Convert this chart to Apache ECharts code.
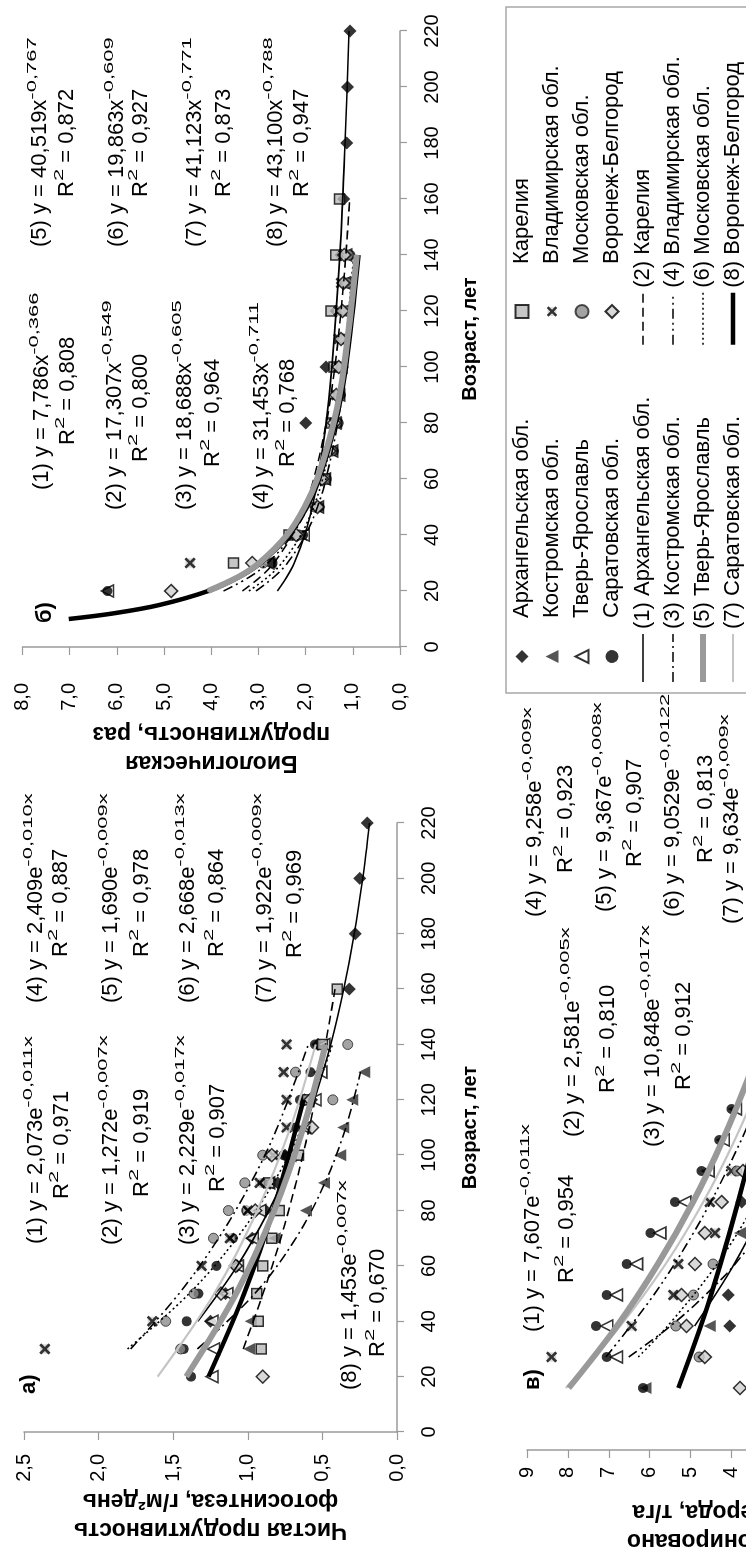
<!DOCTYPE html>
<html><head><meta charset="utf-8">
<script src="https://cdn.jsdelivr.net/npm/echarts/dist/echarts.min.js"></script>
<style>
html,body{margin:0;padding:0;width:746px;height:1557px;overflow:hidden;background:#fff;}
#wrap{position:absolute;left:0;top:0;width:1557px;height:746px;transform-origin:0 0;transform:translate(0px,1557px) rotate(-90deg);}
#chart{width:1557px;height:746px;}
</style></head><body><div id="wrap"><div id="chart"></div></div>
<script>
// ---------- names ----------
const pointNames = ['Архангельская обл.','Костромская обл.','Тверь-Ярославль','Саратовская обл.','Карелия','Владимирская обл.','Московская обл.','Воронеж-Белгород'];
const trendNames = ['(1) Архангельская обл.','(2) Карелия','(3) Костромская обл.','(4) Владимирская обл.','(5) Тверь-Ярославль','(6) Московская обл.','(7) Саратовская обл.','(8) Воронеж-Белгород'];

// ---------- panel а) : net photosynthesis productivity ----------
const a_arkh = [[40,1.25],[50,1.15],[60,1.07],[70,0.97],[80,0.88],[90,0.8],[100,0.75],[120,0.62],[140,0.53],[160,0.32],[180,0.28],[200,0.25],[220,0.2]];
const a_kost = [[30,0.99],[40,0.98],[70,0.82],[80,0.61],[90,0.49],[100,0.38],[110,0.36],[120,0.30],[130,0.22]];
const a_tver = [[20,1.24],[30,1.23],[40,1.24],[50,1.14],[60,1.07],[70,0.97],[80,0.92],[90,0.86],[100,0.72],[110,0.62],[120,0.55],[130,0.51],[140,0.49]];
const a_sar  = [[20,1.38],[30,1.43],[40,1.41],[50,1.33],[60,1.21],[70,1.1],[80,1.01],[90,0.9],[100,0.76],[110,0.68],[120,0.65],[130,0.58],[140,0.55]];
const a_kar  = [[30,0.91],[40,0.93],[50,0.94],[60,0.9],[70,0.84],[80,0.79],[90,0.86],[100,0.66],[120,0.6],[140,0.5],[160,0.4]];
const a_vlad = [[30,2.36],[40,1.64],[60,1.31],[70,1.12],[80,1.0],[90,0.92],[100,0.83],[110,0.74],[120,0.74],[130,0.76],[140,0.74]];
const a_mosk = [[30,1.45],[40,1.55],[50,1.36],[70,1.23],[80,1.13],[90,1.02],[100,0.9],[120,0.43],[130,0.68],[140,0.33]];
const a_vor  = [[20,0.9],[50,1.18],[60,1.08],[80,0.95],[100,0.84],[110,0.57],[120,0.58]];
const a_t1 = [[40,1.335],[60,1.071],[80,0.860],[100,0.690],[120,0.554],[140,0.444],[160,0.357],[180,0.286],[200,0.230],[220,0.184]];
const a_t2 = [[30,1.031],[60,0.836],[90,0.677],[120,0.549],[160,0.415]];
const a_t3 = [[30,1.338],[50,0.953],[70,0.678],[90,0.483],[110,0.343],[130,0.245]];
const a_t4 = [[30,1.785],[50,1.461],[70,1.196],[90,0.979],[110,0.802],[140,0.594]];
const a_t5 = [[20,1.412],[50,1.078],[80,0.823],[110,0.628],[140,0.479]];
const a_t6 = [[30,1.806],[50,1.393],[70,1.074],[90,0.828],[110,0.638],[140,0.432]];
const a_t7 = [[20,1.605],[50,1.225],[80,0.936],[110,0.714],[140,0.545]];
const a_t8 = [[20,1.263],[50,1.024],[80,0.830],[120,0.627]];
const a_eq = [['(1) y = 2,073e','-0,011x','0,971'],['(2) y = 1,272e','-0,007x','0,919'],['(3) y = 2,229e','-0,017x','0,907'],['(4) y = 2,409e','-0,010x','0,887'],['(5) y = 1,690e','-0,009x','0,978'],['(6) y = 2,668e','-0,013x','0,864'],['(7) y = 1,922e','-0,009x','0,969'],['(8) y = 1,453e','-0,007x','0,670']];

// ---------- panel б) : biological productivity ----------
const b_arkh = [[80,2.0],[100,1.57],[120,1.35],[140,1.25],[160,1.19],[180,1.13],[200,1.11],[220,1.06]];
const b_kost = [[30,2.75],[40,2.1],[50,1.75],[60,1.6],[70,1.45],[80,1.35],[90,1.3],[100,1.25],[110,1.2],[120,1.2],[130,1.2]];
const b_tver = [[20,6.2],[30,2.8],[40,2.05],[50,1.75],[60,1.6],[70,1.45],[80,1.38],[90,1.3],[100,1.25],[110,1.22],[120,1.2],[130,1.18],[140,1.15]];
const b_sar  = [[20,6.2],[30,2.7],[40,2.05],[50,1.7],[60,1.55],[70,1.4],[80,1.3],[90,1.25],[100,1.2],[110,1.15],[120,1.1],[130,1.1],[140,1.05]];
const b_kar  = [[30,3.53],[40,2.35],[60,1.6],[80,1.45],[100,1.4],[120,1.46],[140,1.36],[160,1.28]];
const b_vlad = [[30,4.45],[40,2.2],[50,1.8],[60,1.65],[70,1.5],[80,1.4],[90,1.35],[100,1.3],[110,1.3],[120,1.3],[130,1.25],[140,1.2]];
const b_mosk = [[30,2.9],[40,2.15],[50,1.8],[60,1.6],[70,1.45],[80,1.35],[90,1.3],[100,1.25],[110,1.2],[120,1.15],[130,1.12],[140,1.1]];
const b_vor  = [[20,4.85],[30,3.13],[40,2.2],[50,1.75],[60,1.65],[70,1.5],[80,1.4],[90,1.35],[100,1.3],[110,1.25],[120,1.22],[130,1.2],[140,1.18]];
const b_t1 = [[20,2.60],[25,2.40],[30,2.24],[40,2.018],[50,1.86],[60,1.741],[80,1.566],[100,1.443],[140,1.275],[180,1.164],[220,1.081]];
const b_t2 = [[20,3.34],[25,2.96],[30,2.675],[40,2.285],[50,2.02],[60,1.828],[80,1.561],[100,1.381],[120,1.250],[140,1.148],[160,1.067]];
const b_t3 = [[20,3.05],[25,2.67],[30,2.387],[40,2.005],[50,1.75],[60,1.570],[80,1.319],[100,1.153],[130,0.983]];
const b_t4 = [[20,3.74],[25,3.19],[30,2.803],[40,2.283],[50,1.95],[60,1.712],[80,1.394],[100,1.193],[140,0.938]];
const b_t5 = [[20,4.068],[25,3.43],[30,2.983],[40,2.394],[50,2.02],[60,1.756],[80,1.406],[100,1.185],[140,0.915]];
const b_t6 = [[20,3.20],[25,2.80],[30,2.504],[40,2.100],[50,1.83],[60,1.642],[80,1.377],[100,1.204],[140,0.979]];
const b_t7 = [[20,4.082],[25,3.44],[30,2.990],[40,2.394],[50,2.02],[60,1.752],[80,1.402],[100,1.181],[140,0.910]];
const b_t8 = [[10,7.02],[12,6.08],[15,5.10],[20,4.065],[25,3.41],[30,2.957],[40,2.355],[50,1.97],[60,1.712],[80,1.365],[100,1.143],[140,0.878]];
const b_eq = [['(1) y = 7,786x','-0,366','0,808'],['(2) y = 17,307x','-0,549','0,800'],['(3) y = 18,688x','-0,605','0,964'],['(4) y = 31,453x','-0,711','0,768'],['(5) y = 40,519x','-0,767','0,872'],['(6) y = 19,863x','-0,609','0,927'],['(7) y = 41,123x','-0,771','0,873'],['(8) y = 43,100x','-0,788','0,947']];

// ---------- panel в) : deposited carbon ----------
const c_arkh = [[40,4.04],[50,4.08],[80,3.75],[100,3.4],[120,3.0],[140,2.5]];
const c_kost = [[20,6.1],[40,4.53],[70,3.79],[90,3.5],[110,3.1]];
const c_tver = [[30,6.81],[40,7.05],[50,6.81],[60,6.32],[70,5.75],[80,5.14],[90,4.57],[100,4.2],[110,3.9]];
const c_sar  = [[20,6.16],[30,7.05],[40,7.31],[50,7.05],[60,6.56],[70,5.98],[80,5.38],[90,4.73],[100,4.3],[110,4.0]];
const c_kar  = [[30,2.5],[60,2.1],[90,1.7]];
const c_vlad = [[30,8.40],[40,6.44],[50,5.42],[60,5.30],[70,4.40],[80,4.53],[90,4.0]];
const c_mosk = [[30,4.79],[40,5.36],[50,4.93],[60,4.45],[90,3.87]];
const c_vor  = [[20,3.79],[30,4.65],[40,5.10],[50,5.22],[60,4.89],[70,4.65],[80,4.24],[90,3.72]];
const c_t1 = [[40,4.90],[60,3.93],[80,3.16],[100,2.53],[140,1.63],[180,1.05]];
const c_t2 = [[30,2.22],[90,1.65],[160,1.16]];
const c_t3 = [[30,6.51],[40,5.49],[50,4.64],[60,3.91],[80,2.78],[100,1.98],[130,1.19]];
const c_t4 = [[30,7.07],[50,5.90],[70,4.93],[90,4.12],[110,3.44],[140,2.63]];
const c_t5 = [[20,7.98],[40,6.80],[60,5.80],[80,4.94],[100,4.21],[120,3.59],[140,3.06]];
const c_t6 = [[30,6.28],[40,5.56],[60,4.35],[80,3.41],[100,2.67],[140,1.64]];
const c_t7 = [[20,8.05],[40,6.72],[60,5.61],[80,4.69],[100,3.92],[120,3.27],[140,2.73]];
const c_t8 = [[20,5.30],[50,4.50],[90,3.64],[140,2.77]];
const c_eq = [['(1) y = 7,607e','-0,011x','0,954'],['(2) y = 2,581e','-0,005x','0,810'],['(3) y = 10,848e','-0,017x','0,912'],['(4) y = 9,258e','-0,009x','0,923'],['(5) y = 9,367e','-0,008x','0,907'],['(6) y = 9,0529e','-0,0122x','0,813'],['(7) y = 9,634e','-0,009x','']];

// ---------- axis ticks / titles ----------
const ageTicks = {min:0, max:220, step:20};
const ageTicksC = {min:0, max:200, step:20};
const yA = {min:0, max:2.5, step:0.5};
const yB = {min:0, max:8, step:1};
const yC = {min:0, max:9, step:1};
const xTitle = 'Возраст, лет';
const yTitles = ['Чистая продуктивность\nфотосинтеза, г/м²день','Биологическая\nпродуктивность, раз','Депонировано\nуглерода, т/га'];
const panelLabels = ['а)','б)','в)'];

// ================= styling / layout =================
const FONT = '"Liberation Sans", Arial, sans-serif';
const AX = '#9a9a9a';
const xsvg = "<svg xmlns='http://www.w3.org/2000/svg' width='24' height='24'><rect x='4' y='4' width='16' height='16' fill='#d2d2d2'/><path d='M4,4 L20,20 M20,4 L4,20' stroke='#000' stroke-width='4.6'/></svg>";
const XSYM = 'image://data:image/svg+xml;charset=utf-8,' + encodeURIComponent(xsvg);

const markerStyles = {
  'Архангельская обл.': {symbol:'diamond', size:13, item:{color:'#000'}},
  'Костромская обл.': {symbol:'triangle', size:12, item:{color:'#2a2a2a'}},
  'Тверь-Ярославль': {symbol:'triangle', size:12, item:{color:'#fff', borderColor:'#000', borderWidth:1.6}},
  'Саратовская обл.': {symbol:'circle', size:10, item:{color:'#000'}},
  'Карелия': {symbol:'rect', size:10, item:{color:'#b8b8b8', borderColor:'#000', borderWidth:1.5}},
  'Владимирская обл.': {symbol:XSYM, size:14, item:{}},
  'Московская обл.': {symbol:'circle', size:10, item:{color:'#8c8c8c', borderColor:'#222', borderWidth:1}},
  'Воронеж-Белгород': {symbol:'diamond', size:13, item:{color:'#cfcfcf', borderColor:'#000', borderWidth:1.5}}
};
const lineStyles = [
  {color:'#000', width:1.6, type:'solid'},
  {color:'#000', width:1.6, type:[9,5]},
  {color:'#000', width:1.6, type:[10,4,2,4]},
  {color:'#000', width:1.6, type:[10,4,2,4,2,4]},
  {color:'#999', width:6, type:'solid'},
  {color:'#000', width:1.6, type:[2,3]},
  {color:'#c4c4c4', width:2.2, type:'solid'},
  {color:'#000', width:4.5, type:'solid'}
];
const drawOrder = [7,1,2,3,5,0,6,4];

const panelPoints = [
  [a_arkh,a_kost,a_tver,a_sar,a_kar,a_vlad,a_mosk,a_vor],
  [b_arkh,b_kost,b_tver,b_sar,b_kar,b_vlad,b_mosk,b_vor],
  [c_arkh,c_kost,c_tver,c_sar,c_kar,c_vlad,c_mosk,c_vor]
];
const panelTrends = [
  [a_t1,a_t2,a_t3,a_t4,a_t5,a_t6,a_t7,a_t8],
  [b_t1,b_t2,b_t3,b_t4,b_t5,b_t6,b_t7,b_t8],
  [c_t1,c_t2,c_t3,c_t4,c_t5,c_t6,c_t7,c_t8]
];

const series = [];
panelPoints.forEach((arr, gi) => {
  arr.forEach((d, i) => {
    const nm = pointNames[i], ms = markerStyles[nm];
    series.push({type:'scatter', name:nm, xAxisIndex:gi, yAxisIndex:gi, data:d,
      symbol:ms.symbol, symbolSize:ms.size, itemStyle:ms.item, z:3, silent:true});
  });
});
panelTrends.forEach((arr, gi) => {
  drawOrder.forEach(i => {
    series.push({type:'line', name:trendNames[i], xAxisIndex:gi, yAxisIndex:gi, data:arr[i],
      showSymbol:false, symbol:'none', smooth:0.35,
      lineStyle:lineStyles[i], itemStyle:{color:lineStyles[i].color}, z:4, silent:true});
  });
});

function fmt1(v){ return v.toFixed(1).replace('.', ','); }
function xAx(gi, t, nameGap, showLabel){
  return {gridIndex:gi, type:'value', position:'bottom', min:t.min, max:t.max, interval:t.step,
    axisLine:{show:true, onZero:false, lineStyle:{color:AX, width:1.5}},
    axisTick:{show:true, inside:false, length:7, lineStyle:{color:AX, width:1.2}},
    axisLabel:{show:showLabel, margin:22, fontSize:20, color:'#000', fontFamily:FONT},
    splitLine:{show:false},
    name:xTitle, nameLocation:'middle', nameGap:nameGap,
    nameTextStyle:{fontSize:20, fontWeight:'bold', color:'#000', fontFamily:FONT}};
}
function yAx(gi, t, title, nameGap, formatter, margin){
  return {gridIndex:gi, type:'value', position:'left', min:t.min, max:t.max, interval:t.step,
    axisLine:{show:true, onZero:false, lineStyle:{color:AX, width:1.5}},
    axisTick:{show:true, inside:false, length:8, lineStyle:{color:AX, width:1.2}},
    axisLabel:{margin:margin, fontSize:20, color:'#000', fontFamily:FONT, formatter:formatter},
    splitLine:{show:false},
    name:title, nameLocation:'middle', nameRotate:90, nameGap:nameGap,
    nameTextStyle:{fontSize:23, fontWeight:'bold', color:'#000', fontFamily:FONT, lineHeight:29}};
}

// ---------- equation text placement (layout only) ----------
const EQ_SIZE = 22, SUP_SCALE = 0.62, SUP_RISE = 8;
const eqPosA = [[313,36,358,62],[312,111,360,142],[312,188,365,218],[554,36,600,61],[554,111,600,142],[554,188,600,217],[554,265,599,295],[167,350,200,378]];
const eqPosB = [[1067,42,1112,68],[1047,115,1095,141],[1047,185,1090,213],[1047,262,1090,288],[1310,40,1360,67],[1310,117,1360,141],[1310,195,1360,224],[1310,276,1360,302]];
const eqPosC = [[225,533,274,567],[420,573,464,608],[410,653,467,684],[640,535,684,566],[645,605,690,635],[640,673,694,706],[633,732,680,762]];
const mctx = document.createElement('canvas').getContext('2d');
function tw(t){ mctx.font = EQ_SIZE + 'px "Liberation Sans", Arial, sans-serif'; return mctx.measureText(t).width; }
const graphics = [];
function eqLine(x, y, parts){
  let cx = x;
  parts.forEach(p => {
    const sup = p[1];
    graphics.push({type:'text', x:cx, y: sup ? y - SUP_RISE : y, scaleY: sup ? SUP_SCALE : 1, z:5, silent:true,
      style:{text:p[0], fontSize:EQ_SIZE, fontFamily:FONT, fill:'#000', verticalAlign:'middle', align:'left'}});
    cx += tw(p[0]);
  });
}
function addEq(eqs, pos){
  eqs.forEach((e, i) => {
    const p = pos[i];
    eqLine(p[0], p[1], [[e[0], false], [e[1], true]]);
    if (e[2]) eqLine(p[2], p[3], [['R', false], ['2', true], [' = ' + e[2], false]]);
  });
}
addEq(a_eq, eqPosA); addEq(b_eq, eqPosB); addEq(c_eq, eqPosC);
[[163,29],[934,45],[167,533]].forEach((p, i) => {
  graphics.push({type:'text', x:p[0], y:p[1], z:5, silent:true,
    style:{text:panelLabels[i], fontSize:22, fontWeight:'bold', fontFamily:FONT, fill:'#000', verticalAlign:'middle'}});
});
// legend frame
graphics.push({type:'rect', z:50, silent:true, shape:{x:864, y:506, width:686, height:320},
  style:{fill:'#fff', stroke:'#a8a8a8', lineWidth:1.5}});

const legTxt = (pad) => ({fontSize:22, color:'#000', fontFamily:FONT, lineHeight:22, padding:[0,0,0,pad]});
function legMarkers(id, left, top, pad, data){
  return {id:id, orient:'vertical', left:left, top:top, itemWidth:13, itemHeight:13, itemGap:8,
    data:data, textStyle:legTxt(pad), selectedMode:false, z:60, padding:0};
}
function legLines(id, left, top, w, data){
  return {id:id, orient:'vertical', left:left, top:top, itemWidth:w, itemHeight:14, itemGap:8,
    data:data, textStyle:legTxt(0), selectedMode:false, z:60, padding:0,
    itemStyle:{opacity:0, borderWidth:0}, lineStyle:{width:'inherit'}};
}

const option = {
  animation:false,
  backgroundColor:'#fff',
  grid:[
    {left:125, top:24, width:609, height:373, outerBoundsMode:'none', containLabel:false},
    {left:910, top:22.5, width:616, height:377.5, outerBoundsMode:'none', containLabel:false},
    {left:107, top:527, width:620, height:368, outerBoundsMode:'none', containLabel:false}
  ],
  xAxis:[xAx(0, ageTicks, 63, true), xAx(1, ageTicks, 60, true), xAx(2, ageTicksC, 60, true)],
  yAxis:[yAx(0, yA, yTitles[0], 54, fmt1, 22), yAx(1, yB, yTitles[1], 72, fmt1, 36), yAx(2, yC, yTitles[2], 47, v => String(v), 17)],
  legend:[
    legMarkers('lm', 893, 511, 27, pointNames.slice(0,4)),
    legLines('ll', 872, 632, 48, [trendNames[0], trendNames[2], trendNames[4], trendNames[6]]),
    legMarkers('rm', 1238, 511, 36, pointNames.slice(4)),
    legLines('rl', 1210, 632, 52, [trendNames[1], trendNames[3], trendNames[5], trendNames[7]])
  ],
  graphic:{elements:graphics},
  series:series
};
const chart = echarts.init(document.getElementById('chart'), null, {renderer:'canvas'});
chart.setOption(option);
</script></body></html>
